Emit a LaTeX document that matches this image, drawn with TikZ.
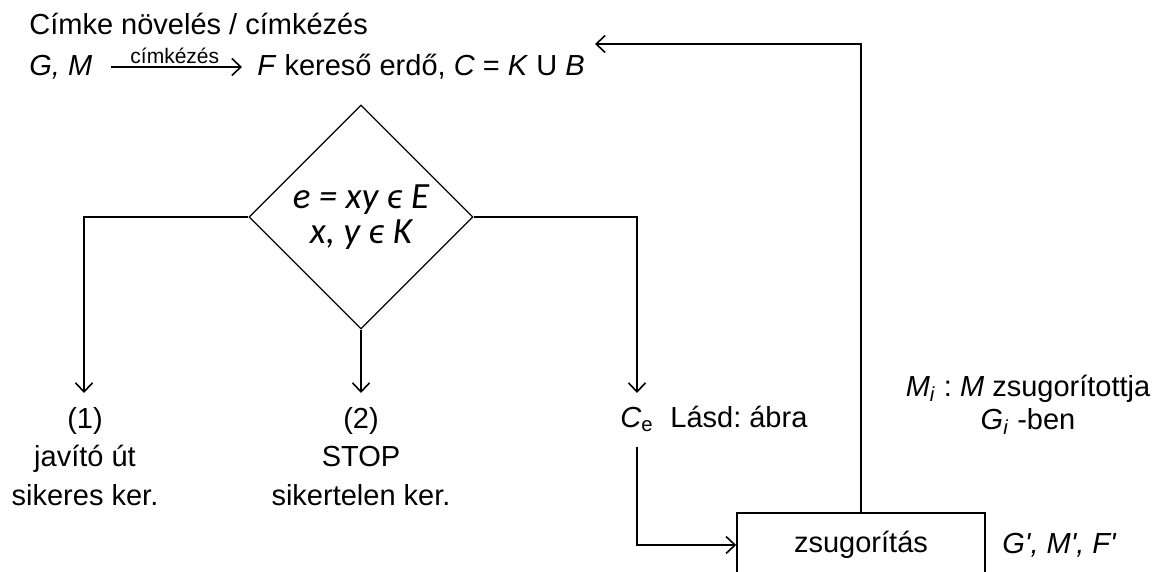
\documentclass[tikz,border=0pt]{standalone}
\usepackage{fontspec}
\setmainfont{Liberation Sans}
\newfontfamily\carlito{Carlito}
\usetikzlibrary{arrows.meta,shapes.geometric}
\frenchspacing

\begin{document}
\begin{tikzpicture}[x=0.5pt,y=-0.5pt,
  >={Straight Barb[length=4.5pt,width=8.5pt]},
  every node/.style={font=\fontsize{14.5}{19.25}\selectfont, inner sep=2pt},
  conn/.style={->, line width=0.8pt},
  cond/.style={draw, diamond, aspect=1, minimum width=112pt, minimum height=112pt,
    inner sep=0pt, line width=0.6pt, align=center,
    font=\carlito\itshape\fontsize{18.5}{17.5}\selectfont},
  box/.style={draw, line width=0.8pt, minimum width=124pt, minimum height=32pt},
  lbl/.style={align=center, anchor=north, inner xsep=0pt, inner ysep=7pt},
  tiny/.style={font=\fontsize{10.5}{12}\selectfont}]
  \useasboundingbox (0,0) rectangle (1168,572);
  \node[anchor=west] (title) at (25,24) {Címke növelés / címkézés};
  \node[anchor=west] (gm) at (25,67) {\textit{G, M}};
  \node[anchor=west] (forest) at (253,67) {\textit{F} kereső erdő, \textit{C} = \textit{K} U \textit{B}};
  \draw[conn, shorten <=7pt, shorten >=5.5pt] (gm.east) -- (gm.east -| forest.west)
    node[midway, above, tiny, inner sep=1pt] {címkézés};
  \node[cond] (test) at (361,217) {e = xy ϵ E\\x, y ϵ K};
  \coordinate (lc) at (84,217);
  \coordinate (rc) at (637,217);
  \node[lbl] (succ) at (85,393) {(1)\\javító út\\sikeres ker.};
  \node[lbl] (fail) at (361,393) {(2)\\STOP\\sikertelen ker.};
  \node[lbl] (ce) at (637,393) {\textit{C}\textsubscript{e}};
  \node[anchor=base west, inner sep=0pt] (see) at (670,428) {Lásd: ábra};
  \node[box] (shrink) at (861,545) {zsugorítás};
  \node[anchor=west] (gmf) at (998,545) {\textit{G\textquotesingle, M\textquotesingle, F\textquotesingle}};
  \node[align=center, font=\fontsize{14.5}{16.5}\selectfont] (note) at (1028,405)
    {\textit{M}\textsubscript{\textit{i}} : \textit{M} zsugorítottja\\\textit{G}\textsubscript{\textit{i}} -ben};
  \coordinate (back) at (595,44);
  \draw[conn] (test.west) -- (lc) -- (lc |- succ.north);
  \draw[conn] (test.south) -- (fail.north);
  \draw[conn] (test.east) -- (rc) -- (ce.north);
  \draw[conn] (ce.south) |- (shrink.west);
  \draw[conn] (shrink.north) |- (back);
\end{tikzpicture}
\end{document}
